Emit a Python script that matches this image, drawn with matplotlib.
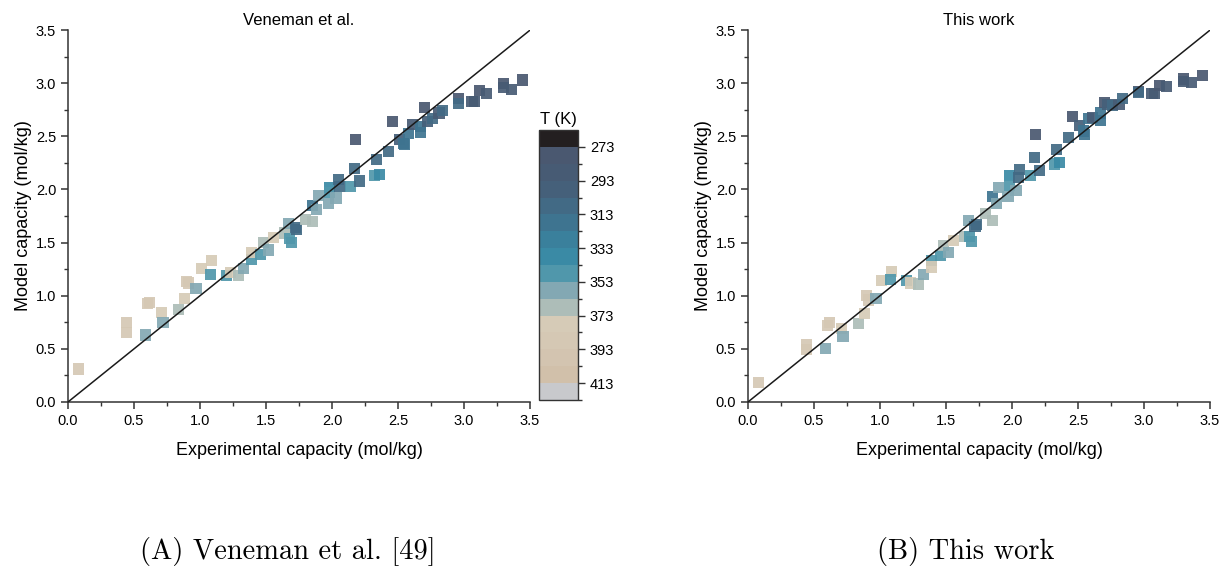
import numpy as np
import matplotlib
matplotlib.use("Agg")
import matplotlib.pyplot as plt
from matplotlib.colors import ListedColormap, BoundaryNorm
from matplotlib.cm import ScalarMappable

# experimental capacity (mol/kg), temperature (K) and model capacities (mol/kg)
exp_cap = [0.08, 0.44, 0.44, 0.59, 0.60, 0.62, 0.71, 0.72, 0.84, 0.88,
           0.90, 0.91, 0.97, 1.01, 1.09, 1.08, 1.20, 1.23, 1.29, 1.33,
           1.39, 1.39, 1.46, 1.48, 1.52, 1.56, 1.64, 1.67, 1.68, 1.69,
           1.73, 1.72, 1.80, 1.85, 1.85, 1.88, 1.90, 1.97, 1.98, 1.98,
           2.03, 2.05, 2.06, 2.14, 2.17, 2.18, 2.21, 2.32, 2.36, 2.34,
           2.43, 2.46, 2.51, 2.54, 2.55, 2.58, 2.61, 2.67, 2.67, 2.70,
           2.72, 2.76, 2.81, 2.84, 2.96, 2.96, 3.06, 3.08, 3.12, 3.17,
           3.30, 3.30, 3.36, 3.44]
temp = [388, 388, 388, 358, 388, 388, 378, 358, 368, 378,
        388, 388, 358, 378, 378, 348, 348, 378, 368, 358,
        348, 378, 348, 368, 358, 378, 368, 358, 348, 348,
        308, 308, 368, 368, 318, 358, 358, 358, 338, 348,
        358, 308, 308, 348, 308, 278, 308, 348, 338, 308,
        308, 278, 298, 318, 318, 318, 288, 318, 318, 278,
        298, 308, 288, 308, 278, 308, 288, 288, 278, 288,
        278, 288, 288, 278]
model_veneman = [0.31, 0.75, 0.65, 0.63, 0.93, 0.94, 0.84, 0.75, 0.87, 0.97,
                 1.13, 1.12, 1.07, 1.26, 1.33, 1.20, 1.19, 1.22, 1.19, 1.26,
                 1.34, 1.41, 1.39, 1.50, 1.43, 1.55, 1.59, 1.68, 1.54, 1.50,
                 1.62, 1.64, 1.72, 1.70, 1.85, 1.81, 1.94, 1.87, 2.02, 1.97,
                 1.92, 2.09, 2.03, 2.03, 2.20, 2.47, 2.08, 2.13, 2.14, 2.28,
                 2.36, 2.64, 2.47, 2.43, 2.42, 2.53, 2.61, 2.54, 2.59, 2.77,
                 2.64, 2.67, 2.72, 2.74, 2.86, 2.81, 2.83, 2.83, 2.93, 2.90,
                 3.00, 2.96, 2.94, 3.03]
model_this = [0.18, 0.54, 0.49, 0.50, 0.72, 0.75, 0.69, 0.62, 0.74, 0.83,
              1.00, 0.96, 0.97, 1.14, 1.23, 1.15, 1.14, 1.12, 1.11, 1.20,
              1.33, 1.27, 1.38, 1.47, 1.41, 1.52, 1.56, 1.71, 1.56, 1.51,
              1.67, 1.65, 1.77, 1.71, 1.93, 1.87, 2.02, 1.93, 2.13, 2.04,
              1.99, 2.11, 2.19, 2.13, 2.30, 2.52, 2.18, 2.24, 2.25, 2.38,
              2.49, 2.69, 2.60, 2.55, 2.52, 2.67, 2.68, 2.65, 2.72, 2.82,
              2.80, 2.79, 2.80, 2.86, 2.92, 2.91, 2.90, 2.90, 2.98, 2.97,
              3.04, 3.02, 3.01, 3.07]

# colour scale, 10 K per block
t_bounds = np.arange(263, 424, 10)
t_colors = ['#231f20', '#4a5870', '#475b74', '#45607a', '#426a85', '#3e7490',
            '#3a809c', '#3a8aa5', '#5097ab', '#83a8b3', '#adbdb8', '#d6cbb7',
            '#d5c8b4', '#d3c4b0', '#d1c0aa', '#c8c9cc']
t_ticks = np.arange(273, 414, 20)

cmap = ListedColormap(t_colors)
norm = BoundaryNorm(t_bounds, cmap.N)

plt.rcParams['font.family'] = ['Liberation Sans', 'DejaVu Sans']

fig = plt.figure(figsize=(12.23, 5.66), dpi=100)
ax1 = fig.add_axes([0.0556, 0.2898, 0.3778, 0.657])
ax2 = fig.add_axes([0.6116, 0.2898, 0.3778, 0.657])


def style_axis(ax, title, model):
    ax.scatter(exp_cap, model, c=temp, cmap=cmap, norm=norm, marker='s',
               s=64, edgecolors='none', alpha=0.92, zorder=2)
    ax.plot([0, 3.5], [0, 3.5], color='#1a1a1a', lw=1.1, zorder=3)
    ax.set_xlim(0, 3.5)
    ax.set_ylim(0, 3.5)
    ax.set_xticks(np.arange(0, 3.51, 0.5))
    ax.set_yticks(np.arange(0, 3.51, 0.5))
    ax.set_xticks(np.arange(0.25, 3.5, 0.5), minor=True)
    ax.set_yticks(np.arange(0.25, 3.5, 0.5), minor=True)
    ax.tick_params(which='major', direction='out', length=5, width=1.1,
                   labelsize=10.5, color='#333333')
    ax.tick_params(which='minor', direction='out', length=3, width=1.0,
                   color='#333333')
    for side in ['top', 'right']:
        ax.spines[side].set_visible(False)
    for side in ['left', 'bottom']:
        ax.spines[side].set_linewidth(1.1)
        ax.spines[side].set_color('#333333')
    ax.set_xlabel('Experimental capacity (mol/kg)', fontsize=13, labelpad=10)
    ax.set_ylabel('Model capacity (mol/kg)', fontsize=13, labelpad=3)
    ax.set_title(title, fontsize=12, pad=4)


style_axis(ax1, 'Veneman et al.', model_veneman)
style_axis(ax2, 'This work', model_this)

# temperature colour bar
cax = fig.add_axes([0.4407, 0.2933, 0.0319, 0.477])
sm = ScalarMappable(norm=norm, cmap=cmap)
cb = fig.colorbar(sm, cax=cax, boundaries=t_bounds, ticks=t_ticks)
cb.outline.set_linewidth(1.0)
cb.outline.set_edgecolor('#333333')
cax.set_yticks(np.arange(283, 424, 20), minor=True)
cax.tick_params(which='major', length=5, width=1.0, labelsize=10.5, color='#333333')
cax.tick_params(which='minor', length=3, width=1.0, color='#333333')
cax.invert_yaxis()
cax.set_title('T (K)', fontsize=12, pad=4)

# sub-figure captions
fig.text(0.235, 0.0, '(A) Veneman et al. [49]', family='cmr10', fontsize=20.5,
         ha='center', va='bottom')
fig.text(0.79, 0.0, '(B) This work', family='cmr10', fontsize=20.5,
         ha='center', va='bottom')

plt.savefig('out.png', dpi=100)
